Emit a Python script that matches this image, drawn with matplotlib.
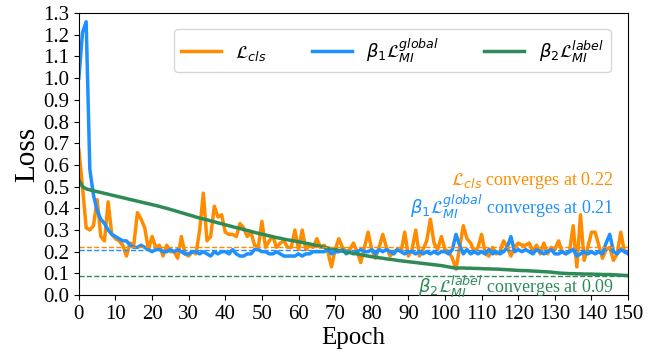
import matplotlib
matplotlib.use("Agg")
from matplotlib import pyplot as plt
import numpy as np

plt.rcParams["font.family"] = ["Liberation Serif", "DejaVu Serif"]
plt.rcParams["mathtext.fontset"] = "dejavusans"

epochs = np.arange(0, 151)

loss_cls = [
    0.67, 0.50, 0.31, 0.30, 0.32, 0.44, 0.27, 0.25, 0.43, 0.28,
    0.26, 0.25, 0.23, 0.18, 0.24, 0.23, 0.38, 0.35, 0.31, 0.21,
    0.27, 0.22, 0.23, 0.18, 0.23, 0.20, 0.20, 0.17, 0.27, 0.19,
    0.18, 0.20, 0.19, 0.30, 0.47, 0.25, 0.27, 0.41, 0.36, 0.37,
    0.29, 0.28, 0.28, 0.27, 0.33, 0.31, 0.27, 0.29, 0.23, 0.22,
    0.34, 0.22, 0.25, 0.27, 0.22, 0.24, 0.25, 0.22, 0.22, 0.30,
    0.21, 0.30, 0.21, 0.23, 0.22, 0.26, 0.22, 0.23, 0.20, 0.13,
    0.21, 0.26, 0.22, 0.20, 0.21, 0.24, 0.20, 0.15, 0.22, 0.29,
    0.21, 0.17, 0.22, 0.28, 0.22, 0.18, 0.20, 0.21, 0.20, 0.29,
    0.18, 0.21, 0.30, 0.18, 0.21, 0.25, 0.35, 0.24, 0.21, 0.27,
    0.21, 0.20, 0.17, 0.12, 0.22, 0.32, 0.26, 0.24, 0.20, 0.22,
    0.28, 0.19, 0.18, 0.22, 0.19, 0.20, 0.25, 0.22, 0.18, 0.22,
    0.24, 0.23, 0.23, 0.24, 0.20, 0.23, 0.19, 0.24, 0.19, 0.22,
    0.21, 0.25, 0.20, 0.19, 0.20, 0.32, 0.13, 0.37, 0.16, 0.22,
    0.29, 0.29, 0.23, 0.17, 0.21, 0.22, 0.16, 0.19, 0.29, 0.20,
    0.20,
]

loss_global = [
    1.00, 1.21, 1.26, 0.58, 0.46, 0.39, 0.35, 0.33, 0.30, 0.28,
    0.27, 0.26, 0.25, 0.25, 0.23, 0.22, 0.22, 0.23, 0.22, 0.21,
    0.20, 0.21, 0.21, 0.20, 0.20, 0.21, 0.20, 0.21, 0.20, 0.19,
    0.19, 0.20, 0.20, 0.19, 0.20, 0.19, 0.18, 0.20, 0.19, 0.20,
    0.20, 0.19, 0.21, 0.19, 0.18, 0.18, 0.19, 0.19, 0.21, 0.21,
    0.20, 0.20, 0.19, 0.19, 0.20, 0.19, 0.18, 0.18, 0.18, 0.18,
    0.19, 0.18, 0.19, 0.19, 0.20, 0.20, 0.20, 0.20, 0.21, 0.19,
    0.20, 0.20, 0.21, 0.19, 0.20, 0.19, 0.20, 0.21, 0.20, 0.20,
    0.21, 0.19, 0.21, 0.20, 0.21, 0.20, 0.19, 0.21, 0.20, 0.19,
    0.20, 0.20, 0.19, 0.20, 0.19, 0.20, 0.19, 0.20, 0.19, 0.20,
    0.20, 0.19, 0.21, 0.28, 0.23, 0.19, 0.21, 0.19, 0.20, 0.19,
    0.20, 0.19, 0.21, 0.19, 0.20, 0.19, 0.20, 0.22, 0.27, 0.20,
    0.21, 0.20, 0.21, 0.20, 0.19, 0.21, 0.20, 0.19, 0.20, 0.21,
    0.19, 0.19, 0.20, 0.19, 0.20, 0.21, 0.18, 0.19, 0.20, 0.19,
    0.20, 0.19, 0.20, 0.19, 0.24, 0.28, 0.20, 0.19, 0.21, 0.20,
    0.19,
]

loss_label = [
    0.530, 0.500, 0.490, 0.485, 0.480, 0.477, 0.473, 0.469, 0.465, 0.461,
    0.457, 0.453, 0.449, 0.445, 0.441, 0.437, 0.433, 0.429, 0.425, 0.421,
    0.417, 0.413, 0.409, 0.404, 0.400, 0.395, 0.390, 0.385, 0.380, 0.375,
    0.370, 0.365, 0.360, 0.355, 0.351, 0.347, 0.342, 0.338, 0.333, 0.329,
    0.324, 0.320, 0.315, 0.311, 0.307, 0.302, 0.298, 0.294, 0.289, 0.285,
    0.281, 0.277, 0.273, 0.269, 0.265, 0.262, 0.258, 0.255, 0.252, 0.249,
    0.246, 0.243, 0.239, 0.236, 0.232, 0.228, 0.225, 0.221, 0.217, 0.214,
    0.210, 0.206, 0.203, 0.199, 0.196, 0.193, 0.190, 0.186, 0.183, 0.180,
    0.177, 0.175, 0.172, 0.170, 0.167, 0.165, 0.163, 0.160, 0.158, 0.156,
    0.154, 0.152, 0.150, 0.148, 0.146, 0.144, 0.142, 0.140, 0.138, 0.136,
    0.133, 0.130, 0.127, 0.124, 0.125, 0.125, 0.124, 0.124, 0.123, 0.123,
    0.122, 0.121, 0.121, 0.120, 0.120, 0.119, 0.118, 0.117, 0.116, 0.115,
    0.114, 0.113, 0.113, 0.112, 0.111, 0.110, 0.109, 0.108, 0.107, 0.106,
    0.104, 0.102, 0.101, 0.100, 0.099, 0.099, 0.098, 0.098, 0.097, 0.097,
    0.097, 0.096, 0.096, 0.095, 0.095, 0.095, 0.094, 0.093, 0.092, 0.091,
    0.090,
]

# converged values
conv_cls = 0.22
conv_global = 0.21
conv_label = 0.09

c_cls = "#FF8C00"
c_global = "#1E90FF"
c_label = "#2E8B57"

fig = plt.figure(figsize=(6.57, 3.53), dpi=100)
ax = fig.add_axes([0.120, 0.164, 0.836, 0.799])

ax.plot(epochs, loss_cls, color=c_cls, lw=2.5, label=r"$\mathcal{L}_{cls}$")
ax.plot(epochs, loss_global, color=c_global, lw=2.5,
        label=r"$\beta_1\mathcal{L}_{MI}^{global}$")
ax.plot(epochs, loss_label, color=c_label, lw=2.5,
        label=r"$\beta_2\mathcal{L}_{MI}^{label}$")

ax.axhline(conv_cls, color=c_cls, ls="--", lw=1)
ax.axhline(conv_global, color=c_global, ls="--", lw=1)
ax.axhline(conv_label, color=c_label, ls="--", lw=1)

ax.text(146, 0.53, r"$\mathcal{L}_{cls}$ converges at %.2f" % conv_cls,
        color=c_cls, fontsize=13, ha="right", va="center")
ax.text(146, 0.405, r"$\beta_1\mathcal{L}_{MI}^{global}$ converges at %.2f" % conv_global,
        color=c_global, fontsize=13, ha="right", va="center")
ax.text(146, 0.04, r"$\beta_2\mathcal{L}_{MI}^{label}$ converges at %.2f" % conv_label,
        color=c_label, fontsize=13, ha="right", va="center")

ax.set_xlim(0, 150)
ax.set_ylim(0, 1.3)
ax.set_xticks(np.arange(0, 151, 10))
ax.set_yticks(np.arange(0, 1.31, 0.1))
ax.set_yticklabels(["%.1f" % v for v in np.arange(0, 1.31, 0.1)])
ax.tick_params(labelsize=15)
ax.set_xlabel("Epoch", fontsize=18, labelpad=2)
ax.set_ylabel("Loss", fontsize=21, labelpad=2)

ax.legend(loc="upper right", ncol=3, fontsize=13, columnspacing=2.5,
          handlelength=2.2, bbox_to_anchor=(0.985, 0.975))

fig.savefig("out.png", dpi=100)
